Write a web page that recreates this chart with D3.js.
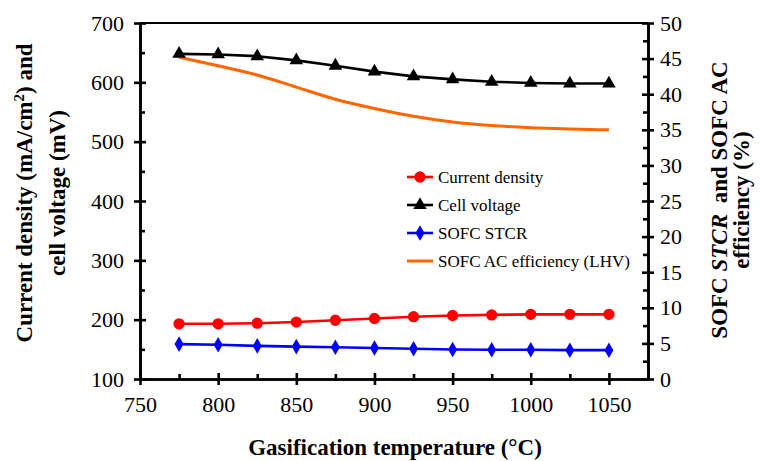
<!DOCTYPE html>
<html>
<head>
<meta charset="utf-8">
<script src="https://cdn.jsdelivr.net/npm/d3@7"></script>
<style>
  html, body { margin: 0; padding: 0; background: #fff; }
  svg { display: block; }
</style>
</head>
<body>
<svg id="chart" width="760" height="461"></svg>
<script>
// Gasification temperature (°C)
const temperatures = [775, 800, 825, 850, 875, 900, 925, 950, 975, 1000, 1025, 1050];
// Left axis series
const currentDensity = [193, 193, 194, 196, 199, 202, 205, 207, 208, 209, 209, 209];   // mA/cm2
const cellVoltage   = [648, 647, 644, 637, 628, 618, 610, 605, 601, 599, 598, 598];   // mV
// Right axis series (%)
const sofcSTCR      = [4.9, 4.8, 4.65, 4.55, 4.45, 4.35, 4.25, 4.15, 4.1, 4.1, 4.05, 4.05];
const acEfficiency  = [45.2, 44.0, 42.7, 41.0, 39.3, 38.0, 36.9, 36.1, 35.6, 35.3, 35.1, 35.0];

const xMajorTicks = [750, 800, 850, 900, 950, 1000, 1050];
const xMinorTicks = [775, 825, 875, 925, 975, 1025, 1075];
const leftTicks = [100, 200, 300, 400, 500, 600, 700];
const leftMinorTicks = [150, 250, 350, 450, 550, 650];
const rightTicks = [0, 5, 10, 15, 20, 25, 30, 35, 40, 45, 50];
const rightMinorTicks = [2.5, 7.5, 12.5, 17.5, 22.5, 27.5, 32.5, 37.5, 42.5, 47.5];

const legendLabels = ["Current density", "Cell voltage", "SOFC STCR", "SOFC AC efficiency (LHV)"];

const FONT = '"Liberation Serif", "Times New Roman", serif';

const svg = d3.select("#chart");
const plot = { left: 140, right: 648, top: 23, bottom: 379 };

const x = d3.scaleLinear().domain([750, 1075]).range([plot.left, plot.right]);
const yL = d3.scaleLinear().domain([100, 700]).range([plot.bottom, plot.top]);
const yR = d3.scaleLinear().domain([0, 50]).range([plot.bottom, plot.top]);

const axisStroke = 2.6;
const fmt = d3.format("d");

function styleAxis(g) {
  g.attr("font-family", null).attr("font-size", null);
  g.select(".domain").attr("stroke", "#000").attr("stroke-width", axisStroke);
  g.selectAll(".tick line").attr("stroke", "#000").attr("stroke-width", axisStroke);
  g.selectAll(".tick text").attr("fill", "#000")
    .style("font-family", FONT).style("font-size", "22px");
}

// top frame line
svg.append("line")
  .attr("x1", plot.left).attr("x2", plot.right)
  .attr("y1", plot.top).attr("y2", plot.top)
  .attr("stroke", "#000").attr("stroke-width", 2);

// bottom axis: minor (inside) then major (crossing)
svg.append("g").attr("transform", `translate(0,${plot.bottom})`)
  .call(d3.axisBottom(x).tickValues(xMinorTicks).tickFormat("").tickSizeInner(-5).tickSizeOuter(0))
  .call(styleAxis);
const gx = svg.append("g").attr("transform", `translate(0,${plot.bottom})`)
  .call(d3.axisBottom(x).tickValues(xMajorTicks).tickFormat(fmt).tickSizeInner(6).tickSizeOuter(0).tickPadding(11))
  .call(styleAxis);
gx.selectAll(".tick line").attr("y1", -6);

// left axis
svg.append("g").attr("transform", `translate(${plot.left},0)`)
  .call(d3.axisLeft(yL).tickValues(leftMinorTicks).tickFormat("").tickSizeInner(-5).tickSizeOuter(0))
  .call(styleAxis);
const gl = svg.append("g").attr("transform", `translate(${plot.left},0)`)
  .call(d3.axisLeft(yL).tickValues(leftTicks).tickFormat(fmt).tickSizeInner(6).tickSizeOuter(0).tickPadding(10))
  .call(styleAxis);
gl.selectAll(".tick line").attr("x1", 6);

// right axis
svg.append("g").attr("transform", `translate(${plot.right},0)`)
  .call(d3.axisRight(yR).tickValues(rightMinorTicks).tickFormat("").tickSizeInner(-5).tickSizeOuter(0))
  .call(styleAxis);
const gr = svg.append("g").attr("transform", `translate(${plot.right},0)`)
  .call(d3.axisRight(yR).tickValues(rightTicks).tickFormat(fmt).tickSizeInner(6).tickSizeOuter(0).tickPadding(6))
  .call(styleAxis);
gr.selectAll(".tick line").attr("x1", -6);

// series
const lineL = d3.line().x((d, i) => x(temperatures[i])).y(d => yL(d));
const lineR = d3.line().x((d, i) => x(temperatures[i])).y(d => yR(d));
const smoothR = d3.line().curve(d3.curveMonotoneX).x((d, i) => x(temperatures[i])).y(d => yR(d));

svg.append("path").datum(acEfficiency).attr("d", smoothR)
  .attr("fill", "none").attr("stroke", "#FF6600").attr("stroke-width", 3);

svg.append("path").datum(sofcSTCR).attr("d", lineR)
  .attr("fill", "none").attr("stroke", "#0000FF").attr("stroke-width", 2.6);
svg.append("path").datum(currentDensity).attr("d", lineL)
  .attr("fill", "none").attr("stroke", "#FF0000").attr("stroke-width", 2.6);
svg.append("path").datum(cellVoltage).attr("d", lineL)
  .attr("fill", "none").attr("stroke", "#000").attr("stroke-width", 2.6);

const circleSym = d3.symbol().type(d3.symbolCircle).size(100);
const triSym = d3.symbol().type(d3.symbolTriangle).size(80);
const diamondSym = d3.symbol().type(d3.symbolDiamond).size(70);

svg.append("g").selectAll("path").data(currentDensity).join("path")
  .attr("transform", (d, i) => `translate(${x(temperatures[i])},${yL(d)})`)
  .attr("d", circleSym).attr("fill", "#FF0000");
svg.append("g").selectAll("path").data(cellVoltage).join("path")
  .attr("transform", (d, i) => `translate(${x(temperatures[i])},${yL(d)})`)
  .attr("d", triSym).attr("fill", "#000");
svg.append("g").selectAll("path").data(sofcSTCR).join("path")
  .attr("transform", (d, i) => `translate(${x(temperatures[i])},${yR(d)})`)
  .attr("d", diamondSym).attr("fill", "#0000FF");

// legend
const legendColors = ["#FF0000", "#000", "#0000FF", "#FF6600"];
const legendSyms = [circleSym, triSym, diamondSym, null];
const legend = svg.append("g").attr("transform", "translate(407,177)");
legendLabels.forEach((label, i) => {
  const row = legend.append("g").attr("transform", `translate(0,${i * 28})`);
  row.append("line").attr("x1", 0).attr("x2", 26).attr("y1", 0).attr("y2", 0)
    .attr("stroke", legendColors[i]).attr("stroke-width", i === 3 ? 3 : 2.6);
  if (legendSyms[i]) {
    row.append("path").attr("transform", "translate(13,0)").attr("d", legendSyms[i]).attr("fill", legendColors[i]);
  }
  row.append("text").attr("x", 31).attr("y", 6)
    .style("font-family", FONT).style("font-size", "17px").attr("fill", "#000").text(label);
});

// axis titles
svg.append("text")
  .attr("x", 395).attr("y", 455)
  .attr("text-anchor", "middle").style("font-family", FONT).style("font-size", "23px").attr("font-weight", "bold")
  .text("Gasification temperature (°C)");

const leftTitle = svg.append("text")
  .attr("transform", "translate(0,193) rotate(-90)")
  .attr("text-anchor", "middle").style("font-family", FONT).style("font-size", "23px").attr("font-weight", "bold");
const l1 = leftTitle.append("tspan").attr("x", 0).attr("y", 32);
l1.append("tspan").text("Current density (mA/cm");
l1.append("tspan").attr("baseline-shift", "super").style("font-size", "15px").text("2");
l1.append("tspan").text(") and");
leftTitle.append("tspan").attr("x", 0).attr("y", 65).text("cell voltage (mV)");

const rightTitle = svg.append("text")
  .attr("transform", "translate(0,200) rotate(-90)")
  .attr("text-anchor", "middle").style("font-family", FONT).style("font-size", "23px").attr("font-weight", "bold");
const r1 = rightTitle.append("tspan").attr("x", 0).attr("y", 727);
r1.append("tspan").text("SOFC ");
r1.append("tspan").attr("font-style", "italic").text("STCR");
r1.append("tspan").attr("dx", 5).text(" and SOFC AC");
rightTitle.append("tspan").attr("x", 0).attr("y", 749).text("efficiency (%)");
</script>
</body>
</html>
